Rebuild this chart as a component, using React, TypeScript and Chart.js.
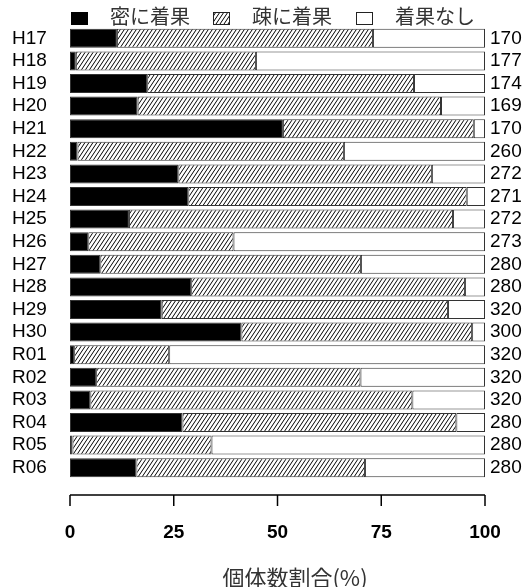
import React, { useEffect, useRef } from "react";
import { Chart, registerables } from "chart.js";

Chart.register(...registerables);

const years = ["H17","H18","H19","H20","H21","H22","H23","H24","H25","H26","H27","H28","H29","H30","R01","R02","R03","R04","R05","R06"];
const counts = ["170","177","174","169","170","260","272","271","272","273","280","280","320","300","320","320","320","280","280","280"];
const dense = [11.3,1.4,18.6,16.3,51.3,1.8,26.1,28.5,14.2,4.4,7.3,29.2,22.1,41.3,1.0,6.3,4.9,27.1,0.6,16.0];
const sparse = [61.7,43.4,64.3,73.1,46.0,64.2,61.1,67.1,78.1,35.0,62.8,66.0,69.0,55.6,22.9,63.7,77.6,66.0,33.5,55.1];
const none = [27.0,55.2,17.1,10.6,2.7,34.0,12.8,4.4,7.7,60.6,29.9,4.8,8.9,3.1,76.1,30.0,17.5,6.9,65.9,28.9];
const seriesNames = ["密に着果","疎に着果","着果なし"];
const xTicks = [0,25,50,75,100];
const xTitle = "個体数割合(%)";

const LATIN = "'Liberation Sans', Arial, sans-serif";
const CJK = "'Noto Sans CJK JP', 'Noto Sans', sans-serif";

function makeHatch(): CanvasPattern | string {
  const w = 4, h = 6;
  const c = document.createElement("canvas");
  c.width = w;
  c.height = h;
  const g = c.getContext("2d");
  if (!g) return "#ccc";
  g.fillStyle = "#fff";
  g.fillRect(0, 0, w, h);
  g.strokeStyle = "#000";
  g.lineWidth = 1;
  for (const dx of [-w, 0, w]) {
    g.beginPath();
    g.moveTo(dx, h);
    g.lineTo(dx + w, 0);
    g.stroke();
  }
  return g.createPattern(c, "repeat") || "#ccc";
}

export default function App() {
  const ref = useRef<HTMLCanvasElement | null>(null);
  useEffect(() => {
    if (!ref.current) return;
    const hatch = makeHatch();
    const fills: any[] = ["#000", hatch, "#fff"];
    const overlay = {
      id: "overlay",
      afterDraw(chart: any) {
        const ctx = chart.ctx as CanvasRenderingContext2D;
        const xs = chart.scales.x;
        const area = chart.chartArea;
        ctx.save();
        const axisY = area.bottom + 16;
        const x0 = xs.getPixelForValue(xTicks[0]);
        const x1 = xs.getPixelForValue(xTicks[xTicks.length - 1]);
        ctx.strokeStyle = "#000";
        ctx.lineWidth = 1.5;
        ctx.beginPath();
        ctx.moveTo(x0, axisY);
        ctx.lineTo(x1, axisY);
        for (const t of xTicks) {
          const px = xs.getPixelForValue(t);
          ctx.moveTo(px, axisY);
          ctx.lineTo(px, axisY + 11);
        }
        ctx.stroke();
        ctx.fillStyle = "#000";
        ctx.font = `bold 19px ${LATIN}`;
        ctx.textAlign = "center";
        ctx.textBaseline = "middle";
        for (const t of xTicks) {
          ctx.fillText(String(t), xs.getPixelForValue(t), axisY + 38);
        }
        ctx.fillStyle = "#333";
        ctx.font = `22px ${CJK}`;
        ctx.fillText(xTitle, 295, 578);
        const boxes = [71, 213, 356];
        const texts = [110, 252, 395];
        ctx.textAlign = "left";
        for (let i = 0; i < 3; i++) {
          ctx.fillStyle = fills[i];
          ctx.fillRect(boxes[i], 12, 17, 13);
          if (i > 0) {
            ctx.strokeStyle = "#222";
            ctx.lineWidth = 1;
            ctx.strokeRect(boxes[i] + 0.5, 12.5, 16, 12);
          }
          ctx.fillStyle = "#333";
          ctx.font = `20px ${CJK}`;
          ctx.fillText(seriesNames[i], texts[i], 16);
        }
        ctx.restore();
      },
    };
    const mk = (label: string, data: number[], i: number) => ({
      label,
      data,
      backgroundColor: fills[i],
      borderColor: "#333",
      borderWidth: 1,
      borderSkipped: false,
      categoryPercentage: 0.84,
      barPercentage: 1,
      yAxisID: "y",
    });
    const chart = new Chart(ref.current, {
      type: "bar",
      data: {
        labels: years,
        datasets: [mk(seriesNames[0], dense, 0), mk(seriesNames[1], sparse, 1), mk(seriesNames[2], none, 2)],
      },
      options: {
        indexAxis: "y",
        animation: false,
        responsive: true,
        maintainAspectRatio: false,
        layout: { padding: { left: 12, right: 0, top: 27, bottom: 108 } },
        plugins: { legend: { display: false }, tooltip: { enabled: false } },
        scales: {
          x: { stacked: true, min: 0, max: 100, display: false },
          y: {
            stacked: true,
            grid: { display: false, drawTicks: false },
            border: { display: false },
            ticks: { autoSkip: false, crossAlign: "far", color: "#000", font: { family: LATIN, size: 19 }, padding: 0 },
            afterFit: (s: any) => { s.width = 58; },
          },
          y2: {
            type: "category",
            labels: counts,
            position: "right",
            offset: true,
            grid: { display: false, drawTicks: false },
            border: { display: false },
            ticks: { autoSkip: false, crossAlign: "near", color: "#000", font: { family: LATIN, size: 19 }, padding: 5 },
            afterFit: (s: any) => { s.width = 39; },
          },
        },
      } as any,
      plugins: [overlay],
    });
    return () => chart.destroy();
  }, []);
  return (
    <div style={{ position: "absolute", left: 0, top: 0, width: 524, height: 587 }}>
      <canvas ref={ref} />
    </div>
  );
}
